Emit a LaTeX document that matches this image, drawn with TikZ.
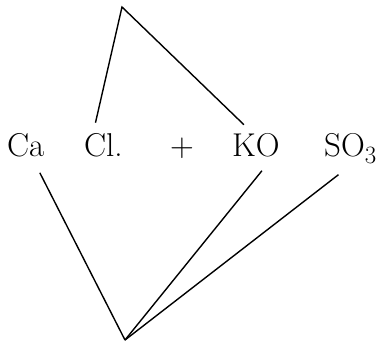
\documentclass[tikz,border=0pt]{standalone}
\usetikzlibrary{calc}
\tikzset{
    chem/.style={inner sep=0pt, anchor=base west, font=\fontsize{33}{40}\selectfont},
    bond/.style={line width=1.4pt, line join=miter}
}
\begin{document}
\begin{tikzpicture}[x=1pt, y=-1pt]
        \useasboundingbox (0,0) rectangle (385,343);
        \node[chem] (ca) at (7,156) {Ca};
        \node[chem] (cl) at (84,156) {Cl.};
        \node[chem] (plus) at (170,156) {+};
        \node[chem] (ko) at (232,156) {KO};
        \node[chem] (so) at (324,156) {SO$_3$};
        \coordinate (top) at (122,7);
        \coordinate (bot) at (125,340);

        \draw[bond] ([xshift=-8pt, yshift=10pt]cl.north) -- (top) -- ([xshift=-12pt, yshift=8pt]ko.north);
        \draw[bond] ([xshift=14pt, yshift=-16pt]ca.south) -- (bot);
        \draw[bond] ([xshift=6pt, yshift=-14pt]ko.south) -- (bot);
        \draw[bond] ([xshift=-12pt, yshift=-11pt]so.south) -- (bot);
\end{tikzpicture}
\end{document}
